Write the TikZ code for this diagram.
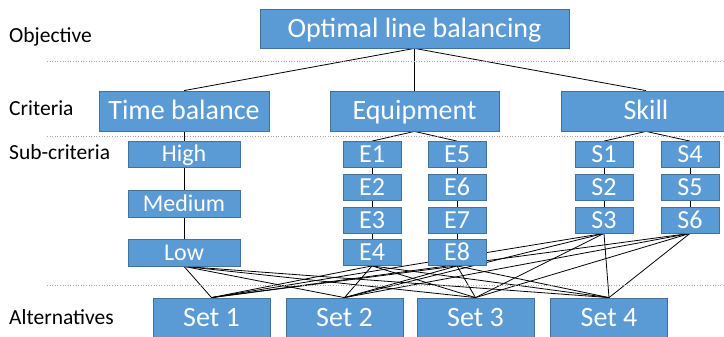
\documentclass[tikz,border=0pt]{standalone}
\usepackage{fontspec}
\setmainfont{Carlito}
\usetikzlibrary{backgrounds}
\begin{document}
\begin{tikzpicture}[x=1pt,y=-1pt,
  box/.style={draw=boxedge,fill=boxfill,line width=0.8pt,text=white,
    inner sep=0pt,text depth=0pt,align=center},
  bigbox/.style={box,font=\fontsize{28}{30}\selectfont,text height=18pt,minimum height=39pt},
  subbox/.style={box,font=\fontsize{24}{26}\selectfont,text height=15.5pt,minimum height=26pt},
  codebox/.style={box,font=\fontsize{26}{28}\selectfont,text height=16.7pt,
    minimum height=26pt,minimum width=58pt},
  level/.style={anchor=base west,inner sep=0pt,font=\fontsize{21.5}{24}\selectfont},
  sep/.style={draw=gray!70,dotted,line width=0.6pt},
  link/.style={draw=black,line width=0.8pt}]
\definecolor{boxfill}{HTML}{5B9BD5}
\definecolor{boxedge}{HTML}{41719C}
\useasboundingbox (0,0) rectangle (724,337);
\clip (0,0) rectangle (724,337);

% level separators
\draw[sep] (47,61) -- (724,61);
\draw[sep] (47,136) -- (724,136);
\draw[sep] (47,285) -- (724,285);

% level names
\node[level] (lobj) at (9,42.5) {Objective};
\node[level] (lcrit) at (9,116) {Criteria};
\node[level] (lsub) at (9,159.5) {Sub-criteria};
\node[level] (lalt) at (9,324) {Alternatives};

% objective and criteria
\node[bigbox,minimum width=309pt] (obj) at (414.5,28.5) {Optimal line balancing};
\node[bigbox,minimum width=170pt,minimum height=40pt] (time) at (184,111) {Time balance};
\node[bigbox,minimum width=169pt,minimum height=40pt] (equip) at (414.5,111) {Equipment};
\node[bigbox,minimum width=170pt,minimum height=40pt] (skill) at (646,111) {Skill};

% sub-criteria: time balance
\node[subbox,minimum width=112pt] (high) at (184,154) {High};
\node[subbox,minimum width=112pt,minimum height=27pt] (medium) at (184,203.5) {Medium};
\node[subbox,minimum width=112pt,minimum height=27pt] (low) at (184,252.5) {Low};

% sub-criteria: equipment and skill
\foreach \n/\x/\y in {E1/372/154.5,E2/372/187.5,E3/372/220,E4/372/252.5,
                      E5/457/154.5,E6/457/187.5,E7/457/220,E8/457/252.5,
                      S1/604/154.5,S2/604/187.5,S3/604/220,
                      S4/690/154.5,S5/690/187.5,S6/690/220}
  \node[codebox] (\n) at (\x,\y) {\n};

% alternatives
\node[bigbox,minimum width=117pt] (set1) at (211.5,317.5) {Set 1};
\node[bigbox,minimum width=117pt] (set2) at (344.5,317.5) {Set 2};
\node[bigbox,minimum width=117pt] (set3) at (475.5,317.5) {Set 3};
\node[bigbox,minimum width=117pt] (set4) at (609,317.5) {Set 4};

\begin{scope}[on background layer]
% hierarchy links
\foreach \c in {time,equip,skill} \draw[link] (obj.south) -- (\c.north);
\draw[link] (time.south) -- (high.north);
\draw[link] (high.south) -- (medium.north);
\draw[link] (medium.south) -- (low.north);
\draw[link] (equip.south) -- (E1.north);
\draw[link] (equip.south) -- (E5.north);
\draw[link] (skill.south) -- (S1.north);
\draw[link] (skill.south) -- (S4.north);
\foreach \a/\b in {E1/E2,E2/E3,E3/E4,E5/E6,E6/E7,E7/E8,S1/S2,S2/S3,S4/S5,S5/S6}
  \draw[link] (\a.south) -- (\b.north);

% every lowest sub-criterion to every alternative
\foreach \s in {low,E4,E8,S3,S6}
  \foreach \t in {set1,set2,set3,set4}
    \draw[link] (\s.south) -- (\t.north);
\end{scope}
\end{tikzpicture}
\end{document}
